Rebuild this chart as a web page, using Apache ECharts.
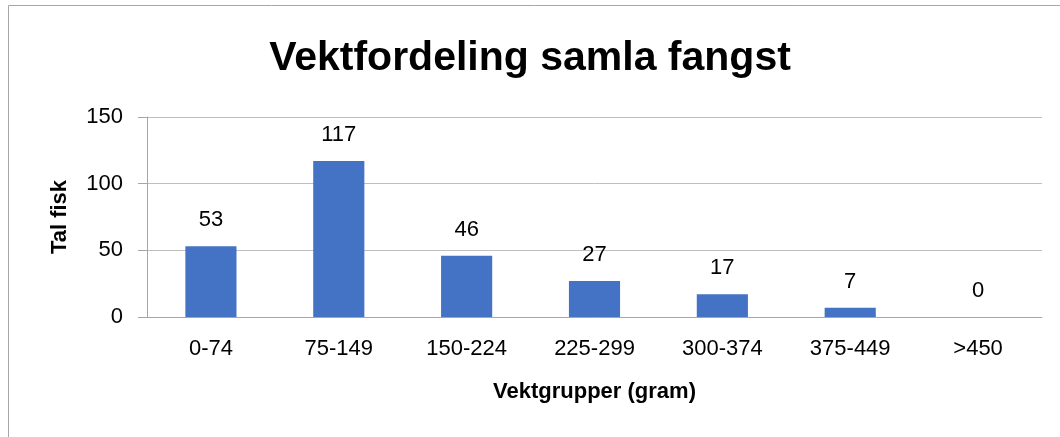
<!DOCTYPE html>
<html>
<head>
<meta charset="utf-8">
<script src="https://cdn.jsdelivr.net/npm/echarts@6/dist/echarts.min.js"></script>
<style>
  html, body { margin: 0; padding: 0; background: #fff; }
  #chart { width: 1060px; height: 437px; }
</style>
</head>
<body>
<div id="chart"></div>
<script>
const categories = ['0-74', '75-149', '150-224', '225-299', '300-374', '375-449', '>450'];
const counts = [53, 117, 46, 27, 17, 7, 0];
const yTicks = [0, 50, 100, 150];

const font = 'Liberation Sans';
const chart = echarts.init(document.getElementById('chart'));

const option = {
    animation: false,
    textStyle: {fontFamily: font},
    title: {
        text: 'Vektfordeling samla fangst',
        left: 'center',
        top: 33,
        textStyle: {fontFamily: font, fontSize: 41, fontWeight: 'bold', color: '#000'}
    },
    graphic: [{
        type: 'rect',
        shape: {x: 8.5, y: 5.5, width: 1100, height: 500},
        style: {fill: 'none', stroke: '#a6a6a6', lineWidth: 1}
    }],
    grid: {left: 147, right: 18, top: 117, bottom: 120},
    xAxis: {
        type: 'category',
        data: categories,
        name: 'Vektgrupper (gram)',
        nameLocation: 'middle',
        nameGap: 64,
        nameTextStyle: {fontSize: 22, fontWeight: 'bold', color: '#000'},
        axisLine: {lineStyle: {color: '#a6a6a6'}},
        axisTick: {length: 8, lineStyle: {color: '#a6a6a6'}},
        axisLabel: {fontSize: 22, color: '#000', margin: 21}
    },
    yAxis: {
        type: 'value',
        min: yTicks[0],
        max: yTicks[yTicks.length - 1],
        interval: 50,
        name: 'Tal fisk',
        nameLocation: 'middle',
        nameGap: 76,
        nameTextStyle: {fontSize: 22, fontWeight: 'bold', color: '#000'},
        axisLine: {show: true, lineStyle: {color: '#a6a6a6'}},
        axisTick: {show: true, length: 9, lineStyle: {color: '#a6a6a6'}},
        axisLabel: {fontSize: 22, color: '#000', margin: 24},
        splitLine: {lineStyle: {color: '#bfbfbf'}}
    },
    series: [{
        type: 'bar',
        data: counts,
        barWidth: '40%',
        itemStyle: {color: '#4472c4'},
        label: {show: true, position: 'top', distance: 15, fontSize: 22, color: '#000'}
    }]
};

chart.setOption(option);
</script>
</body>
</html>
